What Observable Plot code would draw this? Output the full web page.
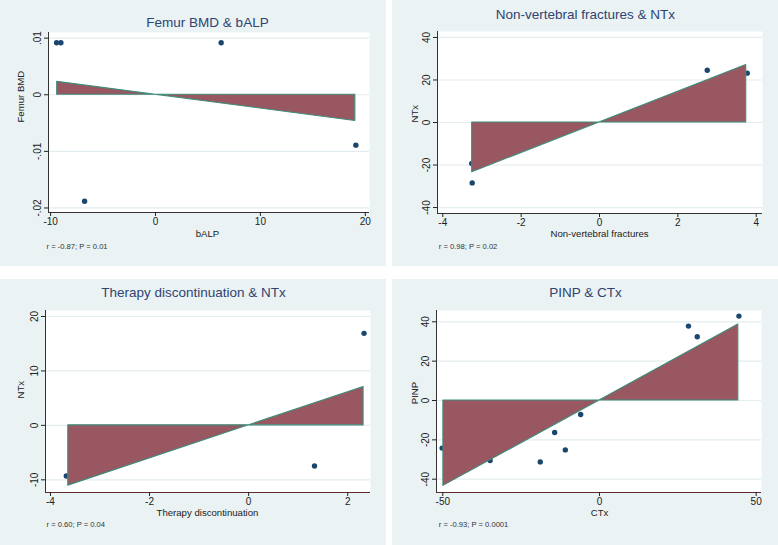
<!DOCTYPE html>
<html><head><meta charset="utf-8">
<script src="https://cdn.jsdelivr.net/npm/d3@7"></script>
<script src="https://cdn.jsdelivr.net/npm/@observablehq/plot@0.6"></script>
<style>
html,body{margin:0;padding:0;background:#fff;}
#root{position:relative;width:778px;height:545px;overflow:hidden;}
.panel{position:absolute;}
</style></head><body><div id="root"></div>
<script>
// ---- Panel 1: Femur BMD & bALP
const femurTitle = "Femur BMD & bALP";
const femurXLabel = "bALP";
const femurYLabel = "Femur BMD";
const femurNote = "r = -0.87; P = 0.01";
const femurPtX = [-9.43, -9.02, 6.26, 19.1, -6.76];
const femurPtY = [0.0092, 0.0092, 0.0092, -0.0089, -0.0188];
const femurFitX = [-9.37, 19.05];
const femurFitY = [0.00228, -0.00464];
const femurXTicks = [-10, 0, 10, 20];
const femurYTicks = [-0.02, -0.01, 0, 0.01];

// ---- Panel 2: Non-vertebral fractures & NTx
const nvfTitle = "Non-vertebral fractures & NTx";
const nvfXLabel = "Non-vertebral fractures";
const nvfYLabel = "NTx";
const nvfNote = "r = 0.98; P = 0.02";
const nvfPtX = [-3.26, -3.25, 2.75, 3.77];
const nvfPtY = [-19.3, -28.4, 24.6, 23.2];
const nvfFitX = [-3.25, 3.745];
const nvfFitY = [-23.4, 27.0];
const nvfXTicks = [-4, -2, 0, 2, 4];
const nvfYTicks = [-40, -20, 0, 20, 40];

// ---- Panel 3: Therapy discontinuation & NTx
const tdTitle = "Therapy discontinuation & NTx";
const tdXLabel = "Therapy discontinuation";
const tdYLabel = "NTx";
const tdNote = "r = 0.60; P = 0.04";
const tdPtX = [-3.68, 1.33, 2.33];
const tdPtY = [-9.3, -7.46, 16.9];
const tdFitX = [-3.64, 2.32];
const tdFitY = [-11.07, 7.06];
const tdXTicks = [-4, -2, 0, 2];
const tdYTicks = [-10, 0, 10, 20];

// ---- Panel 4: PINP & CTx
const pinpTitle = "PINP & CTx";
const pinpXLabel = "CTx";
const pinpYLabel = "PINP";
const pinpNote = "r = -0.93; P = 0.0001";
const pinpPtX = [-50.2, -34.9, -18.9, -14.3, -10.9, -6.0, 28.4, 31.2, 44.5];
const pinpPtY = [-24.2, -30.5, -31.2, -16.3, -25.1, -7.1, 37.8, 32.4, 42.9];
const pinpFitX = [-49.8, 44.3];
const pinpFitY = [-43.4, 38.6];
const pinpXTicks = [-50, 0, 50];
const pinpYTicks = [-40, -20, 0, 20, 40];

const zip = (xs, ys) => xs.map((x, i) => ({x, y: ys[i]}));
const fmt = d => String(d).replace("0.", ".");

const FONT = "'Liberation Sans', Arial, Helvetica, sans-serif";
const BG = "#EAF2F3";
const GRID = "#E3ECEE";
const NAVY = "#1A476F";
const FILL = "#985761";
const OUTLINE = "#3E8C7A";
const TITLE = "#2E4472";

const panels = [
  {title: femurTitle, xl: femurXLabel, yl: femurYLabel, note: femurNote,
   pts: zip(femurPtX, femurPtY), fit: zip(femurFitX, femurFitY), xt: femurXTicks, yt: femurYTicks,
   left: 0, top: 0, mL: 48, mR: 17, mT: 32, mB: 54, xd: [-10.2, 20.4], yd: [-0.0208, 0.0110],
   tdx: -1.5, tdy: -10, xldx: -1.5, xldy: 21, yldx: -27.3, yldy: 0, ndx: -2, ndy: 33.7, baseColor: "#333"},
  {title: nvfTitle, xl: nvfXLabel, yl: nvfYLabel, note: nvfNote,
   pts: zip(nvfPtX, nvfPtY), fit: zip(nvfFitX, nvfFitY), xt: nvfXTicks, yt: nvfYTicks,
   left: 392, top: 0, mL: 45, mR: 16, mT: 31, mB: 53, xd: [-4.135, 4.16], yd: [-42.8, 42.8],
   tdx: -14.7, tdy: -17, xldx: -0.5, xldy: 20.5, yldx: -23, yldy: 0, ndx: 1.3, ndy: 32.7, baseColor: "#333"},
  {title: tdTitle, xl: tdXLabel, yl: tdYLabel, note: tdNote,
   pts: zip(tdPtX, tdPtY), fit: zip(tdFitX, tdFitY), xt: tdXTicks, yt: tdYTicks,
   left: 0, top: 279, mL: 45, mR: 16, mT: 31, mB: 53, xd: [-4.1, 2.46], yd: [-12.33, 21.1],
   tdx: -14.5, tdy: -18, xldx: -0.5, xldy: 20.8, yldx: -24.3, yldy: -3, ndx: 1, ndy: 31.7, baseColor: "#5c2a30"},
  {title: pinpTitle, xl: pinpXLabel, yl: pinpYLabel, note: pinpNote,
   pts: zip(pinpPtX, pinpPtY), fit: zip(pinpFitX, pinpFitY), xt: pinpXTicks, yt: pinpYTicks,
   left: 392, top: 279, mL: 44, mR: 17, mT: 31, mB: 53, xd: [-52.0, 51.7], yd: [-46.76, 45.74],
   tdx: -13.5, tdy: -18, xldx: 0.5, xldy: 20.2, yldx: -22, yldy: 2.7, ndx: 2.3, ndy: 32.3, baseColor: "#5c2a30"}
];

const root = document.getElementById("root");
for (const p of panels) {
  const svg = Plot.plot({
    width: 386, height: 266,
    marginLeft: p.mL, marginRight: p.mR, marginTop: p.mT, marginBottom: p.mB,
    x: {domain: p.xd},
    y: {domain: p.yd},
    style: {background: BG, fontFamily: FONT, overflow: "visible", color: "#222"},
    marks: [
      Plot.frame({fill: "white", stroke: "none"}),
      Plot.gridY(p.yt, {stroke: GRID, strokeOpacity: 1, strokeWidth: 1.2}),
      Plot.dot(p.pts, {x: "x", y: "y", r: 2.7, fill: NAVY, stroke: "none"}),
      Plot.areaY(p.fit, {x: "x", y1: 0, y2: "y", fill: FILL, stroke: OUTLINE, strokeWidth: 1.1}),
      Plot.ruleX([p.xd[0]], {stroke: "#333", strokeWidth: 1}),
      Plot.ruleY([p.yd[0]], {stroke: p.baseColor, strokeWidth: 1}),
      Plot.axisX(p.xt, {tickSize: 4, tickPadding: 1.5, tickFormat: fmt, fontSize: 10, label: null, color: "#222"}),
      Plot.axisY(p.yt, {tickSize: 4, tickPadding: 4, tickRotate: -90, tickFormat: fmt, fontSize: 10, label: null, color: "#222"}),
      Plot.text([p.title], {frameAnchor: "top", dx: p.tdx, dy: p.tdy, fontSize: 13.5, fill: TITLE, lineAnchor: "middle"}),
      Plot.text([p.xl], {frameAnchor: "bottom", dx: p.xldx, dy: p.xldy, fontSize: 9.6, fill: "#222", lineAnchor: "middle"}),
      Plot.text([p.yl], {frameAnchor: "left", dx: p.yldx, dy: p.yldy, rotate: -90, fontSize: 9.6, fill: "#222", lineAnchor: "middle"}),
      Plot.text([p.note], {frameAnchor: "bottom-left", dx: p.ndx, dy: p.ndy, textAnchor: "start", fontSize: 7.6, fill: "#333", lineAnchor: "middle"})
    ]
  });
  svg.classList.add("panel");
  svg.style.left = p.left + "px";
  svg.style.top = p.top + "px";
  root.appendChild(svg);
}
</script>
</body></html>
